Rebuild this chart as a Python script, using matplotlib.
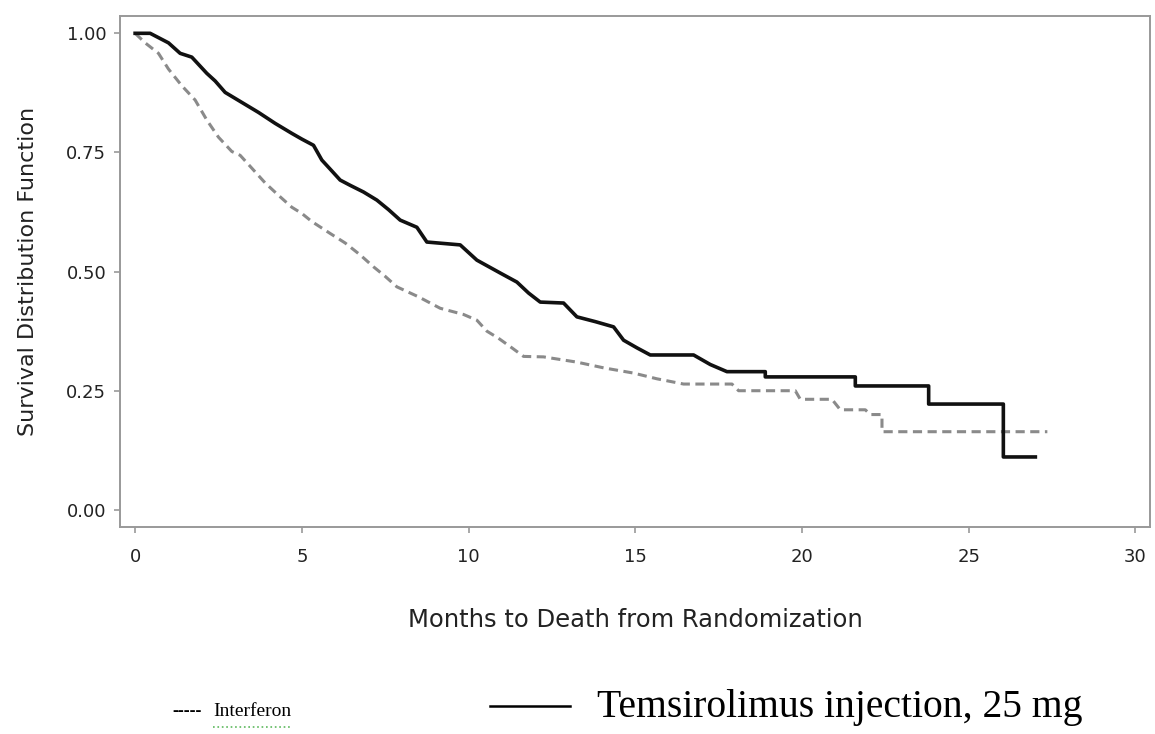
import matplotlib
matplotlib.use("Agg")
import matplotlib.pyplot as plt
from matplotlib.lines import Line2D

# Kaplan-Meier estimates (months, survival)
temsi_t = [0, 0.45, 1.0, 1.35, 1.7, 2.15, 2.4, 2.7, 3.2, 3.7, 4.2, 4.7, 5.0,
           5.35, 5.6, 5.85, 6.15, 6.45, 6.85, 7.25, 7.6, 7.95, 8.45, 8.75, 9.75,
           10.25, 10.95, 11.45, 11.8, 12.15, 12.85, 13.25, 13.8, 14.35, 14.65,
           15.05, 15.45, 16.75, 17.25, 17.75, 18.9, 18.9, 21.6, 21.6, 23.8, 23.8,
           26.04, 26.04, 27.0]
temsi_s = [1.0, 1.0, 0.98, 0.958, 0.95, 0.916, 0.90, 0.876, 0.855, 0.834,
           0.811, 0.79, 0.778, 0.765, 0.734, 0.715, 0.692, 0.681, 0.667, 0.65,
           0.63, 0.608, 0.593, 0.562, 0.556, 0.524, 0.497, 0.478, 0.455, 0.436,
           0.434, 0.405, 0.395, 0.384, 0.356, 0.34, 0.325, 0.325, 0.305, 0.29,
           0.29, 0.279, 0.279, 0.26, 0.26, 0.222, 0.222, 0.111, 0.111]

inter_t = [0, 0.3, 0.7, 1.0, 1.4, 1.8, 2.15, 2.5, 2.9, 3.15, 3.5, 3.9, 4.3, 4.7,
           5.0, 5.3, 5.85, 6.3, 6.75, 7.15, 7.5, 7.85, 8.5, 9.15, 9.85, 10.25,
           10.55, 10.9, 11.3, 11.65, 12.25, 13.25, 14.05, 14.95, 15.65, 16.45,
           17.9, 18.1, 19.8, 19.95, 20.9, 21.15, 21.9, 22.05, 22.4, 22.4, 27.36]
inter_s = [1.0, 0.98, 0.958, 0.925, 0.89, 0.86, 0.818, 0.782, 0.752, 0.744, 0.717,
           0.686, 0.66, 0.635, 0.622, 0.605, 0.58, 0.56, 0.535, 0.51, 0.49, 0.468,
           0.447, 0.423, 0.41, 0.398, 0.375, 0.36, 0.34, 0.322, 0.321, 0.31,
           0.298, 0.287, 0.275, 0.264, 0.264, 0.25, 0.25, 0.232, 0.232, 0.21,
           0.21, 0.2, 0.2, 0.164, 0.164]

x_ticks = [0, 5, 10, 15, 20, 25, 30]
y_ticks = [0.0, 0.25, 0.50, 0.75, 1.00]

fig = plt.figure(figsize=(11.55, 7.34), dpi=100)
ax = fig.add_axes([0.104, 0.282, 0.892, 0.696])

ax.plot(inter_t, inter_s, color="#8a8a8a", lw=2.2, linestyle=(0, (3.0, 1.8)))
ax.plot(temsi_t, temsi_s, color="#111111", lw=2.6)

ax.set_xlim(-0.45, 30.45)
ax.set_ylim(-0.036, 1.036)
ax.set_xticks(x_ticks)
ax.set_yticks(y_ticks)
ax.set_yticklabels([f"{v:.2f}" for v in y_ticks])

for sp in ax.spines.values():
    sp.set_color("#999999")
    sp.set_linewidth(1.4)
ax.tick_params(axis="both", direction="out", length=4, width=1.2, color="#999999",
               labelsize=13, labelcolor="#222222")
ax.tick_params(axis="x", pad=11)
ax.tick_params(axis="y", pad=6)

ax.set_xlabel("Months to Death from Randomization", fontsize=17.5, color="#222222",
              labelpad=30)
ax.set_ylabel("Survival Distribution Function", fontsize=16, color="#222222",
              labelpad=20)

# legend text below the chart
fig.text(172 / 1155, 1 - 712 / 734, "-----", family="Liberation Serif", fontsize=13,
         va="center", ha="left", color="black", weight="bold")
fig.text(213 / 1155, 1 - 712 / 734, "Interferon", family="Liberation Serif",
         fontsize=14, va="center", ha="left", color="black")
fig.add_artist(Line2D([213 / 1155, 290 / 1155], [1 - 727 / 734, 1 - 727 / 734],
                      color="#5cb85c", lw=1.2, linestyle=":"))
fig.add_artist(Line2D([490 / 1155, 570 / 1155], [1 - 706 / 734, 1 - 706 / 734],
                      color="black", lw=1.8))
fig.text(597 / 1155, 1 - 708 / 734, "Temsirolimus injection, 25 mg",
         family="Liberation Serif", fontsize=28.5, va="center", ha="left",
         color="black")

fig.savefig("out.png", dpi=100)
